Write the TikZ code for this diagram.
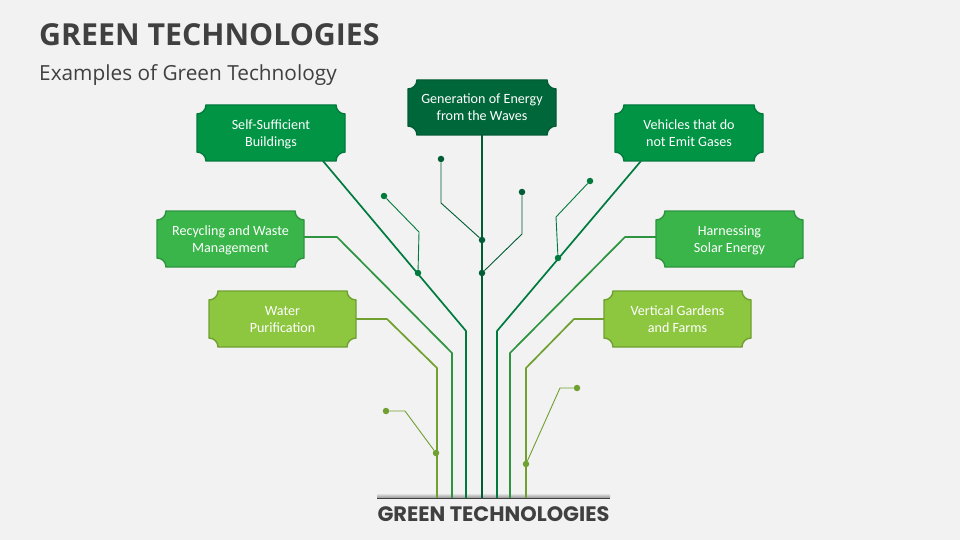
\documentclass[tikz,border=0pt]{standalone}
\usepackage{fontspec}
\setmainfont{Carlito}
\newfontfamily\titlefont{Open Sans}
\newfontfamily\basefont{Poppins}
\definecolor{bgc}{HTML}{F2F2F2}
\definecolor{inkc}{HTML}{404040}
\definecolor{darkf}{HTML}{00673A}
\definecolor{darkl}{HTML}{005C34}
\definecolor{midf}{HTML}{009444}
\definecolor{midl}{HTML}{007A3D}
\definecolor{lightf}{HTML}{39B54A}
\definecolor{lightl}{HTML}{2E9440}
\definecolor{limef}{HTML}{8DC63F}
\definecolor{limel}{HTML}{70A030}
\tikzset{
  x=1pt,y=-1pt,
  boxtext/.style={text=white,font=\fontsize{14.1}{17}\selectfont,align=center,inner sep=0pt},
  trunk/.style={line width=1.7pt,line join=round},
  twig/.style={line width=0.9pt,line join=round},
  dotmark/.style={circle,inner sep=0pt,minimum size=6.5pt},
}
% \plaque{name}{x1}{y1}{x2}{y2}{fill}{border}{line one}{line two}
\newcommand{\plaque}[9]{%
  \path[fill=#6,draw=#7,line width=1.4pt]
    (#2+9,#3) -- (#4-9,#3)
    .. controls (#4-9,#3+5) and (#4-5,#3+9) .. (#4,#3+9)
    -- (#4,#5-9)
    .. controls (#4-5,#5-9) and (#4-9,#5-5) .. (#4-9,#5)
    -- (#2+9,#5)
    .. controls (#2+9,#5-5) and (#2+5,#5-9) .. (#2,#5-9)
    -- (#2,#3+9)
    .. controls (#2+5,#3+9) and (#2+9,#3+5) .. (#2+9,#3) -- cycle;
  \node[boxtext] (#1) at ({(#2+#4)/2},{(#3+#5)/2+1.4}) {\strut #8\\#9\strut};
}
\begin{document}
\begin{tikzpicture}
\useasboundingbox (0,0) rectangle (960,540);
\fill[bgc] (0,0) rectangle (960,540);
\node[anchor=west,inner sep=0pt,text=inkc,font=\titlefont\bfseries\fontsize{30.3}{36}\selectfont] (title) at (39,34.5) {GREEN TECHNOLOGIES};
\node[anchor=west,inner sep=0pt,text=inkc,font=\titlefont\fontsize{20.8}{24}\selectfont] (subtitle) at (39,75) {Examples of Green Technology};

% anchors on the box edges and on the ground
\coordinate (c0) at (482,135); \coordinate (g0) at (482,498);
\coordinate (c1) at (323,161); \coordinate (g1) at (466,498);
\coordinate (c2) at (641,161); \coordinate (g2) at (497,498);
\coordinate (c3) at (304,237); \coordinate (g3) at (452,498);
\coordinate (c4) at (656,237); \coordinate (g4) at (510,498);
\coordinate (c5) at (356,319); \coordinate (g5) at (437,498);
\coordinate (c6) at (604,319); \coordinate (g6) at (526,498);

\fill[top color=bgc,bottom color=black!35] (377,493) rectangle (610,497);

\draw[trunk,darkl] (c0) -- (g0);
\draw[trunk,midl] (c1) -- (466,331) -- (g1);
\draw[trunk,midl] (c2) -- (497,331) -- (g2);
\draw[trunk,lightl] (c3) -- (337,237) -- (452,353) -- (g3);
\draw[trunk,lightl] (c4) -- (625,237) -- (510,353) -- (g4);
\draw[trunk,limel] (c5) -- (387,319) -- (437,368) -- (g5);
\draw[trunk,limel] (c6) -- (574,319) -- (526,368) -- (g6);

\draw[line width=1.6pt,inkc] (377,498.5) -- (610,498.5);

% twigs
\node[dotmark,fill=midl] (a1) at (384,196) {};
\node[dotmark,fill=midl] (a2) at (418,273) {};
\node[dotmark,fill=darkl] (b1) at (441,159) {};
\node[dotmark,fill=darkl] (b2) at (482,240) {};
\node[dotmark,fill=darkl] (d1) at (522,192) {};
\node[dotmark,fill=darkl] (d2) at (482,273) {};
\node[dotmark,fill=midl] (e1) at (590,181) {};
\node[dotmark,fill=midl] (e2) at (558,258) {};
\node[dotmark,fill=limel] (f1) at (386,411) {};
\node[dotmark,fill=limel] (f2) at (436,453) {};
\node[dotmark,fill=limel] (h1) at (577,388) {};
\node[dotmark,fill=limel] (h2) at (526,464) {};
\draw[twig,midl] (a1) -- (419,232) -- (a2);
\draw[twig,darkl] (b1) -- (441,203) -- (b2);
\draw[twig,darkl] (d1) -- (522,234) -- (d2);
\draw[twig,midl] (e1) -- (556,217) -- (e2);
\draw[twig,limel] (f1) -- (405,411) -- (f2);
\draw[twig,limel] (h1) -- (560,388) -- (h2);

\plaque{n1}{197}{105}{345}{161}{midf}{midl}{Self-Sufficient}{Buildings}
\plaque{n0}{408}{80}{556}{135}{darkf}{darkl}{Generation of Energy}{from the Waves}
\plaque{n2}{615}{105}{763}{161}{midf}{midl}{Vehicles that do}{not Emit Gases}
\plaque{n3}{157}{211}{304}{267}{lightf}{lightl}{Recycling and Waste}{Management}
\plaque{n4}{656}{211}{803}{267}{lightf}{lightl}{Harnessing}{Solar Energy}
\plaque{n5}{209}{291}{356}{347}{limef}{limel}{Water}{Purification}
\plaque{n6}{604}{291}{751}{347}{limef}{limel}{Vertical Gardens}{and Farms}

\node[inner sep=0pt,text=inkc,font=\basefont\bfseries\fontsize{20.9}{24}\selectfont] (base) at (493.5,514) {GREEN TECHNOLOGIES};
\end{tikzpicture}
\end{document}
